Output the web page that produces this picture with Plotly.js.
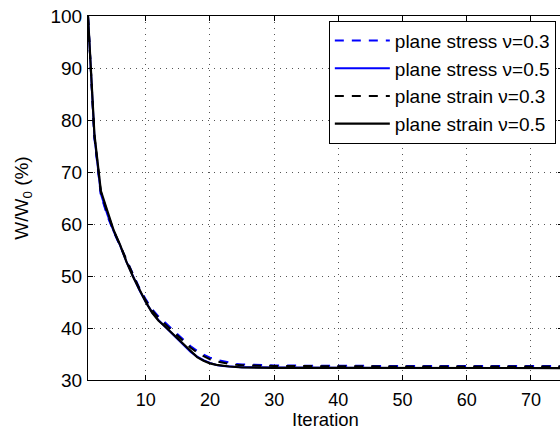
<!DOCTYPE html>
<html>
<head>
<meta charset="utf-8">
<script src="https://cdn.plot.ly/plotly-3.0.1.min.js"></script>
<style>
html,body{margin:0;padding:0;overflow:hidden;background:#fff;width:560px;height:430px;}
#chart{width:571px;height:430px;}
</style>
</head>
<body>
<div id="chart"></div>
<script>
// Iterations sampled
const iterations = [1,2,3,4,5,6,7,8,9,10,11,12,13,14,15,16,17,18,19,20,21,22,23,24,25,30,35,40,45,50,55,60,65,70,75];

// W/W0 (%) for each case
const stress03 = [100,76.5,65.6,61.6,58.5,55.8,52.8,50.1,47.7,45.5,43.6,42.2,41.0,39.9,38.8,37.6,36.5,35.6,34.9,34.3,33.9,33.6,33.3,33.1,33.0,32.8,32.75,32.7,32.7,32.7,32.7,32.7,32.7,32.7,32.7];
const stress05 = [100,76.8,65.8,61.9,58.6,55.9,52.7,49.9,47.3,45.0,43.0,41.5,40.3,39.1,37.9,36.6,35.4,34.5,33.8,33.3,32.9,32.7,32.6,32.5,32.45,32.4,32.35,32.35,32.3,32.3,32.3,32.3,32.3,32.3,32.3];
const strain03 = [100,76.9,66.2,62.2,58.7,55.9,52.8,50.0,47.5,45.3,43.4,41.9,40.7,39.6,38.5,37.3,36.2,35.3,34.6,34.0,33.6,33.3,33.1,32.95,32.85,32.7,32.65,32.6,32.6,32.6,32.6,32.6,32.6,32.6,32.6];
const strain05 = [100,77.3,66.4,62.4,58.8,56.0,52.7,49.9,47.3,45.0,42.9,41.4,40.3,39.1,37.9,36.6,35.4,34.4,33.7,33.2,32.9,32.7,32.6,32.5,32.4,32.35,32.35,32.3,32.3,32.3,32.3,32.3,32.3,32.3,32.3];

const seriesNames = ['plane stress \u03bd=0.3','plane stress \u03bd=0.5','plane strain \u03bd=0.3','plane strain \u03bd=0.5'];
const xTicks = [10,20,30,40,50,60,70];
const yTicks = [30,40,50,60,70,80,90,100];

const FONT = '"Liberation Sans", Arial, Helvetica, sans-serif';
const dashed = '9px,8px';

const traces = [
  {x: iterations, y: stress03, name: seriesNames[0], mode:'lines', line:{color:'#0000ff', width:2, dash:dashed}},
  {x: iterations, y: stress05, name: seriesNames[1], mode:'lines', line:{color:'#0000ff', width:2}},
  {x: iterations, y: strain03, name: seriesNames[2], mode:'lines', line:{color:'#000000', width:2, dash:dashed}},
  {x: iterations, y: strain05, name: seriesNames[3], mode:'lines', line:{color:'#000000', width:2.2}}
];

const axisCommon = {
  showline: true, linecolor: '#000', linewidth: 1, mirror: 'ticks',
  ticks: 'inside', ticklen: 5, tickwidth: 1, tickcolor: '#000',
  showgrid: true, gridcolor: '#555', gridwidth: 1, griddash: '1px,5px',
  zeroline: false, tickfont: {family: FONT, size: 19, color: '#000'}
};

const layout = {
  width: 571, height: 430,
  margin: {l: 88, r: 8, t: 16, b: 50},
  paper_bgcolor: '#fff', plot_bgcolor: '#fff',
  font: {family: FONT, color: '#000'},
  showlegend: true,
  legend: {
    x: 0.507, xanchor: 'left', y: 0.987, yanchor: 'top',
    bgcolor: '#fff', bordercolor: '#000', borderwidth: 1,
    font: {family: FONT, size: 19, color: '#000'},
    itemwidth: 55, tracegroupgap: 0
  },
  xaxis: Object.assign({}, axisCommon, {
    range: [1, 75], tickmode: 'array', tickvals: xTicks, ticklabelstandoff: 3,
    tickfont: {family: FONT, size: 18, color: '#000'},
    title: {text: 'Iteration', font: {family: FONT, size: 18.5}, standoff: 5}
  }),
  yaxis: Object.assign({}, axisCommon, {
    range: [30, 100], tickmode: 'array', tickvals: yTicks, ticklabelstandoff: 1,
    title: {text: 'W/W<sub>0</sub> (%)', font: {family: FONT, size: 19}, standoff: 16}
  })
};

Plotly.newPlot('chart', traces, layout, {displayModeBar: false, staticPlot: true});
</script>
</body>
</html>
